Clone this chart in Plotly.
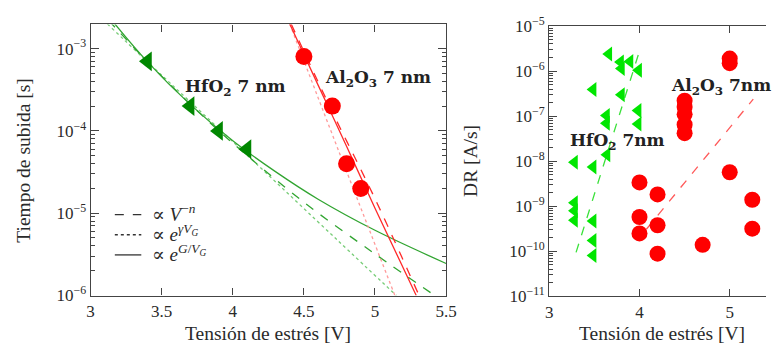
import plotly.graph_objects as go

# ---------------- Left panel data ----------------
hf_v = [3.4, 3.7, 3.9, 4.1]
hf_t = [7.0e-4, 2.0e-4, 1.0e-4, 6.0e-5]
al_v = [4.5, 4.7, 4.8, 4.9]
al_t = [8.0e-4, 2.0e-4, 4.0e-5, 2.0e-5]

# fit curves
hf_sol_v = [3.17, 3.4, 3.7, 4.0, 4.3, 4.6, 5.0, 5.5]
hf_sol_t = [2.0e-3, 6.9e-4, 2.1e-4, 7.6e-5, 3.2e-5, 1.48e-5, 6.2e-6, 2.45e-6]
hf_das_v = [3.127, 3.4, 3.7, 4.0, 4.5, 5.0, 5.42]
hf_das_t = [2.2e-3, 6.9e-4, 2.12e-4, 7.1e-5, 1.36e-5, 3.2e-6, 1.0e-6]
hf_dot_v = [3.117, 3.4, 4.1, 4.736, 5.15]
hf_dot_t = [2.0e-3, 6.9e-4, 5.1e-5, 4.7e-6, 1.0e-6]

al_sol_v = [4.40, 4.6, 4.8, 5.0, 5.29]
al_sol_t = [2.0e-3, 3.6e-4, 6.5e-5, 1.15e-5, 1.0e-6]
al_das_v = [4.41, 4.7, 5.0, 5.31]
al_das_t = [2.0e-3, 1.7e-4, 1.5e-5, 1.0e-6]
al_dot_v = [4.40, 4.75, 5.14]
al_dot_t = [2.0e-3, 5.4e-5, 1.0e-6]

# ---------------- Right panel data ----------------
dr_hf_v = [3.66, 3.79, 3.80, 3.895, 3.99, 3.486, 3.80, 3.634, 3.634, 3.985,
           3.985, 3.64, 3.28, 3.486, 3.28, 3.28, 3.28, 3.486, 3.486, 3.486]
dr_hf_y = [2.4e-6, 1.6e-6, 1.15e-6, 1.64e-6, 1.05e-6, 3.9e-7, 3.0e-7, 1.04e-7, 7.0e-8, 1.33e-7,
           6.7e-8, 1.4e-8, 9.5e-9, 7.5e-9, 1.2e-9, 8.0e-10, 4.9e-10, 4.7e-10, 1.74e-10, 8.1e-11]
dr_al_v = [5.0, 5.0, 4.5, 4.5, 4.5, 4.5, 4.5, 5.0, 4.0, 4.2,
           5.25, 4.0, 4.2, 4.0, 5.25, 4.7, 4.2]
dr_al_y = [1.9e-6, 1.5e-6, 2.2e-7, 1.6e-7, 1.1e-7, 6.5e-8, 4.2e-8, 5.7e-9, 3.4e-9, 1.84e-9,
           1.4e-9, 5.8e-10, 3.8e-10, 2.5e-10, 3.2e-10, 1.4e-10, 8.9e-11]
dr_hf_fit_v = [3.297, 4.0]
dr_hf_fit_y = [9.5e-11, 2.8e-6]
dr_al_fit_v = [4.076, 5.261]
dr_al_fit_y = [3.1e-10, 2.4e-7]

# tick labels
left_y_exp = [-6, -5, -4, -3]
right_y_exp = [-11, -10, -9, -8, -7, -6, -5]
left_x_ticks = [3, 3.5, 4, 4.5, 5, 5.5]
left_x_text = ["3", "3.5", "4", "4.5", "5", "5.5"]
right_x_ticks = [3, 4, 5]
right_x_text = ["3", "4", "5"]

legend_labels = ["∝ <i>V</i><sup>−<i>n</i></sup>",
                 "∝ <i>e</i><sup><i>γV</i><sub><i>G</i></sub></sup>",
                 "∝ <i>e</i><sup><i>G</i>/<i>V</i><sub><i>G</i></sub></sup>"]
legend_dashes = ["dash", "dot", "solid"]

FONT = "Liberation Serif, DejaVu Serif, Times New Roman, serif"
BFONT = "DejaVu Serif, Liberation Serif, serif"
TXT = "#2a2a2a"
AX = "#444444"

G_MARK = "rgb(0,135,0)"
G_LINE = "rgb(50,165,50)"
G_DOT = "rgb(120,205,120)"
R_MARK = "#ff0000"
R_LINE = "#ff2a2a"
R_DOT = "#ff9a9a"
G2 = "rgb(0,230,0)"
G2_LINE = "rgb(60,225,60)"
R2_LINE = "#ff5a5a"

W, H = 777, 354

def px(x):
    return x / W

def py(y):
    return 1 - y / H

def pow_text(e):
    return "10<sup>−%d</sup>" % (-e)

minor_left = [k * 10.0 ** e for e in range(-6, -2) for k in range(2, 10)]
minor_right = [k * 10.0 ** e for e in range(-11, -5) for k in range(2, 10)]

fig = go.Figure()

def line(x, y, color, dash, w=1.3, xa="x", ya="y"):
    fig.add_trace(go.Scatter(x=x, y=y, mode="lines", line=dict(color=color, dash=dash, width=w, shape="spline"),
                             showlegend=False, xaxis=xa, yaxis=ya, hoverinfo="skip"))

line(hf_dot_v, hf_dot_t, G_DOT, "dot")
line(hf_das_v, hf_das_t, G_LINE, "dash")
line(hf_sol_v, hf_sol_t, G_LINE, "solid")
line(al_dot_v, al_dot_t, R_DOT, "dot")
line(al_das_v, al_das_t, R_LINE, "dash")
line(al_sol_v, al_sol_t, R_LINE, "solid")

fig.add_trace(go.Scatter(x=hf_v, y=hf_t, mode="markers", showlegend=False,
                         marker=dict(symbol="triangle-left", size=17, color=G_MARK)))
fig.add_trace(go.Scatter(x=al_v, y=al_t, mode="markers", showlegend=False,
                         marker=dict(symbol="circle", size=17, color=R_MARK)))

# right panel
line(dr_hf_fit_v, dr_hf_fit_y, G2_LINE, "dash", 1.3, "x2", "y2")
line(dr_al_fit_v, dr_al_fit_y, R2_LINE, "dash", 1.3, "x2", "y2")
fig.add_trace(go.Scatter(x=dr_hf_v, y=dr_hf_y, mode="markers", showlegend=False, xaxis="x2", yaxis="y2",
                         marker=dict(symbol="triangle-left", size=13, color=G2)))
fig.add_trace(go.Scatter(x=dr_al_v, y=dr_al_y, mode="markers", showlegend=False, xaxis="x2", yaxis="y2",
                         marker=dict(symbol="circle", size=16, color=R_MARK)))

tickfont = dict(family=FONT, size=17, color=TXT)
titlefont = dict(family=FONT, size=19.5, color=TXT)

common_x = dict(showline=True, linecolor=AX, linewidth=1.2, ticks="inside", ticklen=7, tickcolor=AX,
                showgrid=False, zeroline=False, tickfont=tickfont, tickmode="array")

def ylog(exps, minor_vals):
    return dict(type="log", showline=True, linecolor=AX, linewidth=1.2, ticks="inside", ticklen=8, tickcolor=AX,
                showgrid=False, zeroline=False, tickfont=tickfont, tickmode="array",
                tickvals=[10.0 ** e for e in exps], ticktext=[pow_text(e) for e in exps],
                minor=dict(ticks="inside", ticklen=4, tickcolor=AX, tickmode="array", tickvals=minor_vals,
                           showgrid=False))

annotations = [
    dict(x=3.651, y=-3.478, xref="x", yref="y", text="<b>HfO<sub>2</sub> 7 nm</b>", showarrow=False,
         xanchor="left", yanchor="middle", font=dict(family=BFONT, size=17, color="#222")),
    dict(x=4.632, y=-3.364, xref="x", yref="y", text="<b>Al<sub>2</sub>O<sub>3</sub> 7 nm</b>", showarrow=False,
         xanchor="left", yanchor="middle", font=dict(family=BFONT, size=17, color="#222")),
    dict(x=3.2065, y=-7.569, xref="x2", yref="y2", text="<b>HfO<sub>2</sub> 7nm</b>", showarrow=False,
         xanchor="left", yanchor="middle", font=dict(family=BFONT, size=17, color="#222")),
    dict(x=4.329, y=-6.333, xref="x2", yref="y2", text="<b>Al<sub>2</sub>O<sub>3</sub> 7nm</b>", showarrow=False,
         xanchor="left", yanchor="middle", font=dict(family=BFONT, size=17, color="#222")),
    # axis titles
    dict(x=px(20), y=py(159), xref="paper", yref="paper", text="Tiempo de subida [s]", textangle=-90,
         showarrow=False, xanchor="center", yanchor="middle", font=titlefont),
    dict(x=px(269), y=py(343), xref="paper", yref="paper", text="Tensión de estrés [V]",
         showarrow=False, xanchor="center", yanchor="middle", font=titlefont),
    dict(x=px(475), y=py(159), xref="paper", yref="paper", text="DR [A/s]", textangle=-90,
         showarrow=False, xanchor="center", yanchor="middle", font=titlefont),
    dict(x=px(670.5), y=py(343), xref="paper", yref="paper", text="Tensión de estrés [V]",
         showarrow=False, xanchor="center", yanchor="middle", font=titlefont),
]

shapes = []
legend_rows = [216, 237.5, 259]
for lab, dsh, ry in zip(legend_labels, legend_dashes, legend_rows):
    shapes.append(dict(type="line", xref="paper", yref="paper", x0=px(113), x1=px(140), y0=py(ry), y1=py(ry),
                       line=dict(color="#333", width=1.3, dash=dsh)))
    annotations.append(dict(x=px(149), y=py(ry - 2), xref="paper", yref="paper", text=lab, showarrow=False,
                            xanchor="left", yanchor="middle", font=dict(family=FONT, size=19, color=TXT)))

fig.update_layout(
    width=W, height=H, margin=dict(l=0, r=0, t=0, b=0),
    paper_bgcolor="white", plot_bgcolor="white", showlegend=False,
    font=dict(family=FONT, color=TXT),
    xaxis=dict(domain=[0.11364, 0.58018], range=[3, 5.5], tickvals=left_x_ticks,
               ticktext=left_x_text, mirror="allticks", **common_x),
    yaxis=dict(domain=[0.14605, 0.96243], range=[-6, -2.707], mirror="allticks", **ylog(left_y_exp, minor_left)),
    xaxis2=dict(domain=[0.71557, 1.0], range=[3, 5.402], tickvals=right_x_ticks, ticktext=right_x_text,
                anchor="y2", mirror="ticks", **common_x),
    yaxis2=dict(domain=[0.14322, 0.95763], range=[-11, -5], anchor="x2", **ylog(right_y_exp, minor_right)),
    annotations=annotations,
    shapes=shapes,
)

fig.write_html("out.html")
